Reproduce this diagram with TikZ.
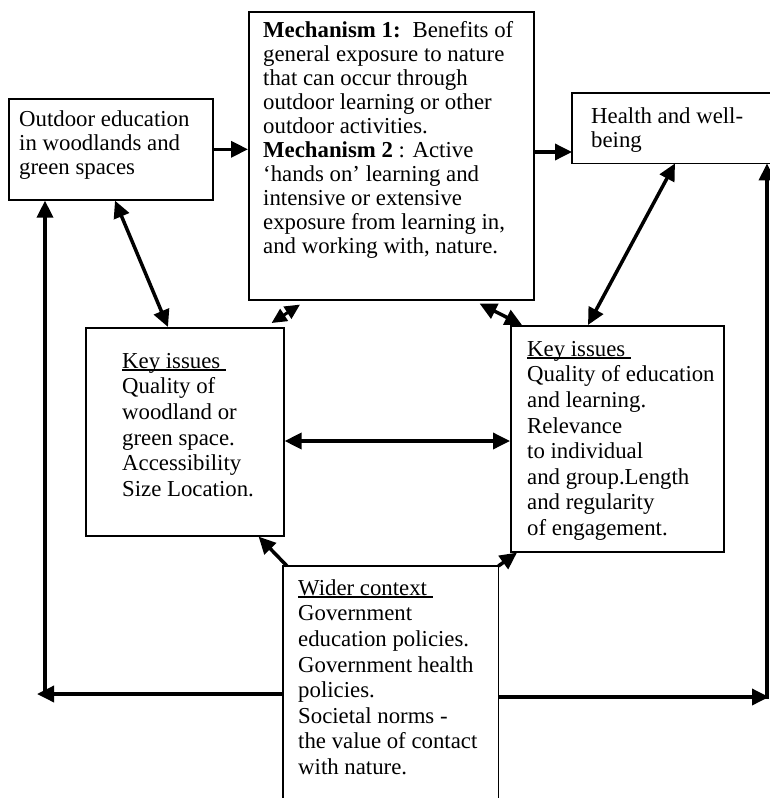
\documentclass[tikz,border=0pt]{standalone}
\usepackage{fontspec}
\setmainfont{Liberation Serif}
\usetikzlibrary{arrows.meta,calc}
\newcommand\ulx[1]{\setbox0\hbox{#1}\rlap{\rule[-2.5pt]{\wd0}{1.3pt}}\box0}
\begin{document}
\begin{tikzpicture}[x=1pt,y=-1pt,
  box/.style={draw,line width=1.6pt,inner sep=0pt,anchor=north west},
  openbox/.style={inner sep=0pt,anchor=north west},
  txt/.style={anchor=north west,inner sep=0pt,align=left,font=\fontsize{22.8}{24}\selectfont},
  txtb/.style={anchor=north west,inner sep=0pt,align=left,font=\fontsize{22.8}{25.6}\selectfont},
  conn/.style={line width=3.5pt,-{Triangle[length=17pt,width=16pt]}},
  bconn/.style={line width=3.5pt,{Triangle[length=17pt,width=16pt]}-{Triangle[length=17pt,width=16pt]}},
  sconn/.style={line width=3pt,{Triangle[length=15pt,width=14pt]}-{Triangle[length=15pt,width=14pt]}}
]
\useasboundingbox (0,0) rectangle (770,798);

% boxes
\node[box,minimum width=204pt,minimum height=101pt] (outdoor) at (8,98) {};
\node[box,minimum width=285pt,minimum height=288pt] (mech) at (248,11) {};
\node[openbox,minimum width=200pt,minimum height=70pt] (health) at (572,93) {};
\draw[line width=1.6pt] (health.north east) -- (health.north west) -- (health.south west) -- (health.south east);
\node[box,minimum width=198pt,minimum height=208pt] (keyl) at (85,327) {};
\node[box,minimum width=213pt,minimum height=226pt] (keyr) at (510,325) {};
\node[openbox,minimum width=215pt,minimum height=232pt] (wider) at (283,566) {};
\draw[line width=1.6pt] (wider.south west) -- (wider.north west) -- (wider.north east) -- (wider.south east);

% texts
\node[txt] (outdoort) at (19,106) {\rule{0pt}{20pt}Outdoor education\\in woodlands and\\green spaces};
\node[txt] (mecht) at (263,17) {\rule{0pt}{20pt}\textbf{Mechanism 1:}\hspace{12pt}Benefits of\\general exposure to nature\\that can occur through\\outdoor learning or other\\outdoor activities.\\\textbf{Mechanism 2} : Active\\‘hands on’ learning and\\intensive or extensive\\exposure from learning in,\\and working with, nature.};
\node[txt] (healtht) at (591,103) {\rule{0pt}{20pt}Health and well-\\being};
\node[txtb] (keylt) at (122,348) {\rule{0pt}{20pt}\ulx{Key issues\ }\\Quality of\\woodland or\\green space.\\Accessibility\\Size Location.};
\node[txtb] (keyrt) at (527,336) {\rule{0pt}{20pt}\ulx{Key issues\ }\\Quality of education\\and learning.\\Relevance\\to individual\\and group.Length\\and regularity\\of engagement.};
\node[txtb] (widert) at (298,575) {\rule{0pt}{20pt}\ulx{Wider context\ }\\Government\\education policies.\\Government health\\policies.\\Societal norms -\\the value of contact\\with nature.};

% connectors
\draw[conn] (outdoor.east) -- (outdoor.east -| mech.west);
\draw[conn] (mech.east |- 0,152) -- (health.west |- 0,152);
\draw[bconn] ($(outdoor.south west)+(107,0)$) -- ($(keyl.north west)+(83,0)$);
\draw[bconn] ($(health.south west)+(103,0)$) -- ($(keyr.north west)+(78,0)$);
\draw[sconn] ($(mech.south west)+(52,4)$) -- ($(keyl.north east)+(-13,-4)$);
\draw[bconn] ($(mech.south east)+(-55,3)$) -- ($(keyr.north west)+(12,0)$);
\draw[bconn] (keyl.east |- 0,441) -- (keyr.west |- 0,441);
\draw[conn] ($(wider.north west)+(4,0)$) -- ($(keyl.south east)+(-26,0)$);
\draw[conn] (wider.north east) -- ($(keyr.south west)+(7,0)$);

\coordinate (lc) at (45,694);
\coordinate (rc) at (767,697);
\draw[conn] (wider.west |- lc) -- ([xshift=-8pt]lc);
\draw[conn] ([yshift=-3pt]lc) -- (outdoor.south -| lc);
\draw[conn] (wider.east |- rc) -- ([xshift=2pt]rc);
\draw[conn] ([yshift=-2pt]rc) -- (health.south -| rc);
\end{tikzpicture}
\end{document}
